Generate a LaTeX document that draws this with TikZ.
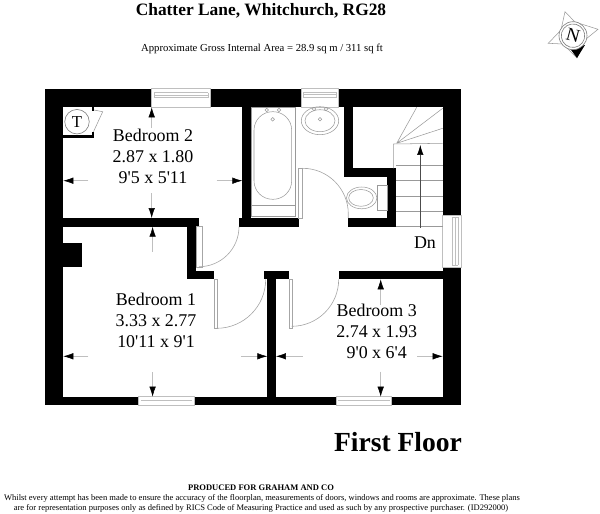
\documentclass[tikz,border=0pt]{standalone}
\usepackage{fontspec}
\setmainfont{Liberation Serif}
\usetikzlibrary{arrows.meta}
\tikzset{
	wall/.style={fill=black,draw=none},
	fitting/.style={draw=black!40,line width=0.3pt},
	glazing/.style={draw=black!25,line width=0.3pt},
	doorleaf/.style={draw=black!35,line width=0.35pt},
	dimline/.style={draw=black!25,line width=0.3pt,-{Latex[black,length=0.2cm,width=0.13cm]}},
	roomlabel/.style={align=center,inner sep=0,font=\fontsize{10.2}{11.95}\selectfont},
	footer/.style={inner sep=0,font=\fontsize{4.85}{6}\selectfont}
}
\begin{document}
\begin{tikzpicture}[x=0.02cm,y=-0.02cm]
	\useasboundingbox (0,0) rectangle (600,514);
	\node[inner sep=0,font=\fontsize{9.9}{11}\selectfont\bfseries] (title) at (261,10.5) {Chatter Lane, Whitchurch, RG28};
	\node[inner sep=0,font=\fontsize{6.08}{7}\selectfont] (area) at (262,49) {Approximate Gross Internal Area = 28.9 sq m / 311 sq ft};
	\fill[wall] (44.7,88.7) rectangle (151.7,107.3);
	\fill[wall] (210,88.7) rectangle (301.3,107.3);
	\fill[wall] (338.7,88.7) rectangle (461,107.3);
	\fill[wall] (44.7,88.7) rectangle (63.3,405);
	\fill[wall] (442.7,88.7) rectangle (461,215);
	\fill[wall] (442.7,267.3) rectangle (461,405);
	\fill[wall] (44.7,396.7) rectangle (138.7,405);
	\fill[wall] (194,396.7) rectangle (336,405);
	\fill[wall] (391.7,396.7) rectangle (461,405);
	\fill[wall] (242.3,107.3) rectangle (251.3,226.7);
	\fill[wall] (239,218) rectangle (298.7,226.7);
	\fill[wall] (348.3,218) rectangle (396,226.7);
	\fill[wall] (344,107.3) rectangle (353.3,177.3);
	\fill[wall] (344,168.3) rectangle (396,177.3);
	\fill[wall] (387.3,168.3) rectangle (396,226.7);
	\fill[wall] (63.3,218) rectangle (198.7,226.7);
	\fill[wall] (186.7,218) rectangle (196,279.3);
	\fill[wall] (186.7,270.7) rectangle (214.3,279.3);
	\fill[wall] (264,270.7) rectangle (289,279.3);
	\fill[wall] (267.3,270.7) rectangle (276,396.7);
	\fill[wall] (338.7,270.7) rectangle (442.7,279.3);
	\fill[wall] (63.3,242.7) rectangle (81.7,267);
	\fill[wall] (63.3,135) rectangle (94,137.7);
	\fill[wall] (91.7,107.3) rectangle (94,110.7);
	\fill[wall] (91.7,131.7) rectangle (94,137.7);
	\draw[glazing] (151.7,88.7) rectangle (210,107.3);
	\draw[glazing] (154,92.7) -- (208.3,92.7) (154,95) -- (208.3,95) (154,97.7) -- (208.3,97.7) (154,92.7) -- (154,97.7) (208.3,92.7) -- (208.3,97.7);
	\draw[glazing] (301.3,88.7) rectangle (338.7,107.3);
	\draw[glazing] (303.3,92) -- (336.7,92) (303.3,94.5) -- (336.7,94.5) (303.3,97) -- (336.7,97) (303.3,92) -- (303.3,97) (336.7,92) -- (336.7,97);
	\draw[glazing] (442.7,215) rectangle (461,267.3);
	\draw[glazing] (452,217) -- (452,265) (455,217) -- (455,265) (458.3,217) -- (458.3,265) (452,217) -- (458.3,217) (452,265) -- (458.3,265);
	\draw[glazing] (138.7,396.7) rectangle (194,405);
	\draw[glazing] (141,400.7) -- (192,400.7);
	\draw[glazing] (336,396.7) rectangle (391.7,405);
	\draw[glazing] (338,400.7) -- (390,400.7);
	\node[draw=black!50,circle,line width=0.35pt,inner sep=0,minimum size=0.49cm,font=\fontsize{9.5}{10}\selectfont] (tank) at (77,121.7) {T};
	\draw[fitting] (94,110) -- (102.7,111.7) -- (93.5,131.7);
	\draw[fitting,rounded corners=0.37cm] (254,111.7) rectangle (291.7,199.3);
	\draw[fitting] (251.3,107.3) rectangle (295,216.7);
	\draw[fitting] (251.3,205.7) -- (295,205.7);
	\draw[fitting] (266.7,110) circle[radius=1.8] (279,110) circle[radius=1.8] (272.7,119.3) circle[radius=1.8];
	\draw[fitting] (320,120.7) ellipse[x radius=18.7,y radius=14] (320,120.7) ellipse[x radius=15,y radius=11];
	\draw[fitting] (314,109) circle[radius=1.8] (326,109) circle[radius=1.8] (320,119.3) circle[radius=1.8];
	\draw[fitting] (377.3,185) rectangle (387.3,210);
	\draw[fitting] (361.7,197.9) ellipse[x radius=15.2,y radius=10.9] (361,197.9) ellipse[x radius=12.3,y radius=8.4];
	\draw[fitting] (393.3,144) -- (393.3,168.3) (396.7,143.3) -- (416.7,107.3) (396.7,143.3) -- (442.7,108.3) (396.7,143.3) -- (442.7,128.3);
	\draw[fitting] (393.3,144) -- (442.7,143.3);
	\draw[fitting] (396,165.7) -- (442.7,165.7) (396,180.7) -- (442.7,180.7) (396,196) -- (442.7,196) (396,211.3) -- (442.7,211.3) (396,226.7) -- (442.7,226.7);
	\draw[black!70,line width=0.3pt,-{Latex[black,length=0.2cm,width=0.13cm]}] (420.3,228) -- (420.3,145);
	\node[inner sep=0,font=\fontsize{10.2}{12}\selectfont] (dn) at (425,242.5) {Dn};
	\draw[doorleaf] (298.7,168.3) rectangle (302.7,218);
	\draw[doorleaf] (302.7,168.3) arc[start angle=-90,end angle=0,radius=45.6] -- (348.3,218);
	\draw[doorleaf] (196.7,226.7) rectangle (202.3,267.3);
	\draw[doorleaf] (239,226.7) arc[start angle=0,end angle=90,radius=40];
	\draw[doorleaf] (214.3,279.3) rectangle (217.7,328.3);
	\draw[doorleaf] (265.7,279.3) arc[start angle=0,end angle=90,radius=49];
	\draw[doorleaf] (289,279.3) rectangle (292.3,328.3);
	\draw[doorleaf] (338.7,279.3) arc[start angle=0,end angle=90,radius=47];
	\draw[dimline] (151.7,128) -- (151.7,107.3);
	\draw[dimline] (88.3,180.7) -- (63.3,180.7);
	\draw[dimline] (216.7,180.7) -- (242.3,180.7);
	\draw[dimline] (151.7,193.3) -- (151.7,218);
	\draw[dimline] (152.6,251.7) -- (152.6,226.7);
	\draw[dimline] (88.3,356.3) -- (63.3,356.3);
	\draw[dimline] (241,356.3) -- (267.3,356.3);
	\draw[dimline] (152.6,372.3) -- (152.6,396.7);
	\draw[dimline] (302.7,356.3) -- (276,356.3);
	\draw[dimline] (417.3,356.3) -- (442.7,356.3);
	\draw[dimline] (380.7,305) -- (380.7,279.3);
	\draw[dimline] (380.7,371.7) -- (380.7,396.7);
	\node[roomlabel] (bedtwo) at (153,156) {Bedroom 2\\2.87 x 1.80\\9\textquotesingle 5 x 5\textquotesingle 11};
	\node[roomlabel] (bedone) at (156,320) {Bedroom 1\\3.33 x 2.77\\10\textquotesingle 11 x 9\textquotesingle 1};
	\node[roomlabel] (bedthree) at (376.7,331) {Bedroom 3\\2.74 x 1.93\\9\textquotesingle 0 x 6\textquotesingle 4};
	\node[inner sep=0,font=\fontsize{15.7}{18}\selectfont\bfseries] (floor) at (398,442) {First Floor};
	\node[footer,font=\fontsize{4.85}{6}\selectfont\bfseries] (producer) at (261,488) {PRODUCED FOR GRAHAM AND CO};
	\node[footer] (disclaimone) at (262,498) {Whilst every attempt has been made to ensure the accuracy of the floorplan, measurements of doors, windows and rooms are approximate. These plans};
	\node[footer] (disclaimtwo) at (261,508) {are for representation purposes only as defined by RICS Code of Measuring Practice and used as such by any prospective purchaser. (ID292000)};
	\draw[fitting] (565,11.7) -- (575,22) -- (598,29.3) -- (586,39) -- (577,58) -- (563,44) -- (548.3,43.3) -- (561,30) -- cycle;
	\fill[black] (570,48.5) -- (585,45) -- (577,58) -- cycle;
	\node[draw=black!50,circle,line width=0.35pt,fill=white,inner sep=0,minimum size=0.56cm] (rose) at (573,35.7) {};
	\node[draw=black!50,circle,line width=0.35pt,inner sep=0,minimum size=0.47cm,rotate=-15,font=\fontsize{10.5}{11}\selectfont] (north) at (573,35.7) {N};
\end{tikzpicture}
\end{document}
